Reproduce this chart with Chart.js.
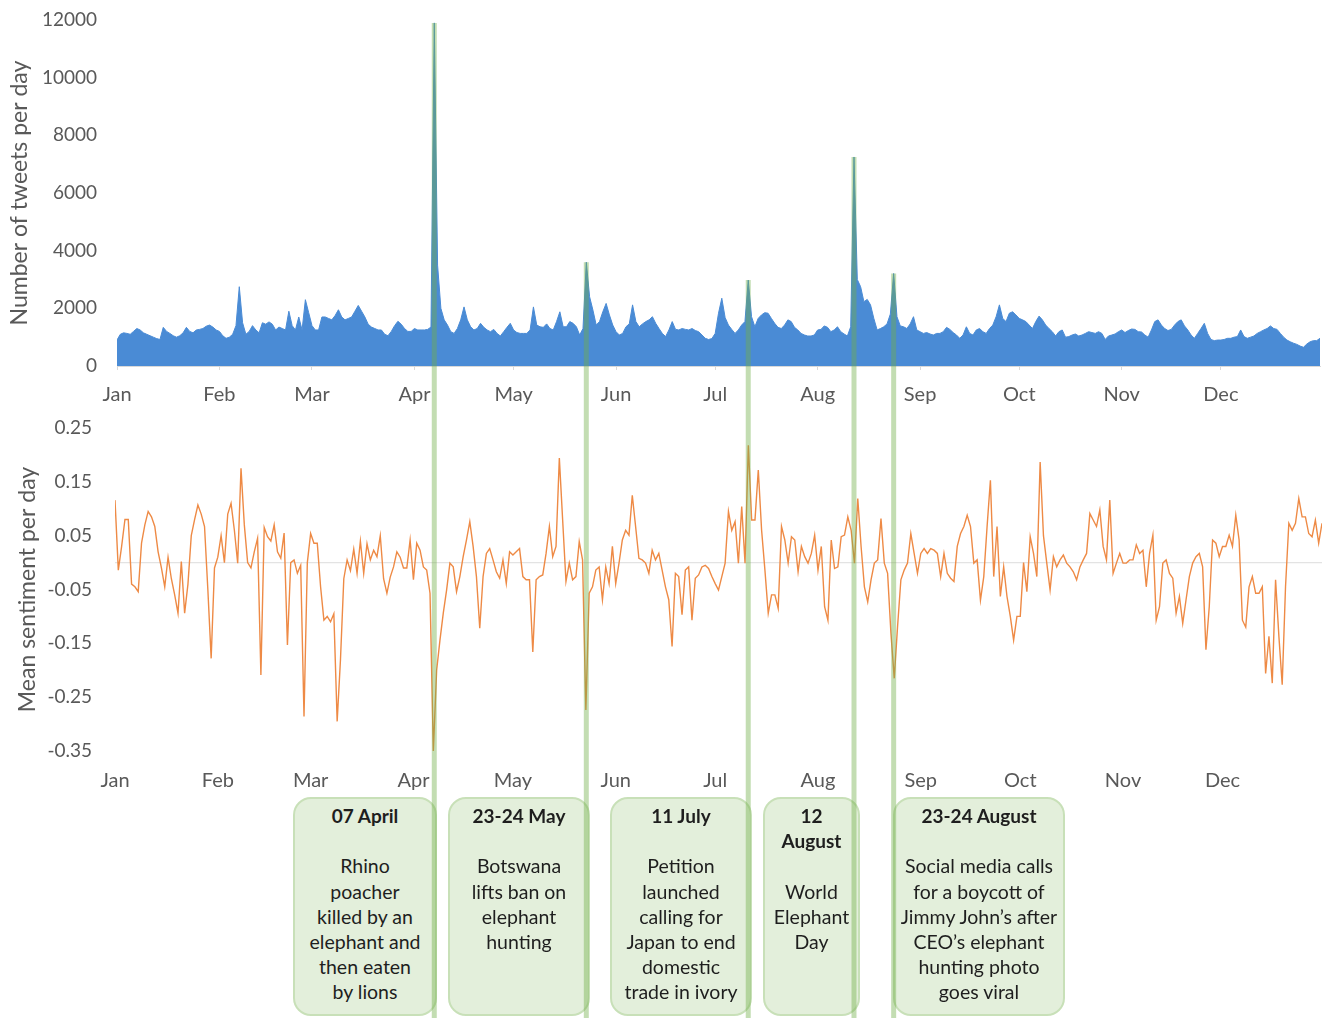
<!DOCTYPE html>
<html><head><meta charset="utf-8">
<script src="https://cdn.jsdelivr.net/npm/chart.js@4.4.1/dist/chart.umd.min.js"></script>
<style>
html,body{margin:0;padding:0;background:#fff;width:1329px;height:1018px;overflow:hidden;font-family:Lato,"Open Sans",sans-serif;}
#wrap{position:relative;width:1329px;height:1018px;}
canvas{position:absolute;left:0;}
#cTop{top:0;}
#cBot{top:410px;}
#overlay{top:0;z-index:10;pointer-events:none;}
.box{position:absolute;top:797px;height:219px;box-sizing:border-box;background:#e3efdb;border:2.5px solid #c8e0b8;border-radius:18px;text-align:center;color:#1e1e1e;font-size:19.5px;line-height:25.2px;padding-top:4px;z-index:5;white-space:nowrap;}
.box .t{font-weight:bold;font-size:19px;}
</style></head><body>
<div id="wrap">
<canvas id="cTop" width="1329" height="410"></canvas>
<canvas id="cBot" width="1329" height="390"></canvas>
<div id="boxes"></div>
<canvas id="overlay" width="1329" height="1018"></canvas>
</div>
<script>
// ---- data ----
const monthStarts = [0,31,59,90,120,151,181,212,243,273,304,334];
const monthLabels = ['Jan','Feb','Mar','Apr','May','Jun','Jul','Aug','Sep','Oct','Nov','Dec'];
const tweetTicks = [0,2000,4000,6000,8000,10000,12000];
const sentimentTicks = [-0.35,-0.25,-0.15,-0.05,0.05,0.15,0.25];

const tweets = [
900,1100,1150,1130,1100,1200,1300,1250,1150,1100,
1050,1000,950,920,1340,1200,1130,1050,1000,1050,
1150,1340,1200,1150,1250,1270,1300,1380,1420,1350,
1250,1200,1050,960,1000,1100,1400,2750,1500,1100,
1200,1400,1250,1150,1500,1450,1530,1450,1250,1350,
1300,1250,1900,1400,1250,1700,1250,2300,1850,1400,
1250,1250,1700,1700,1650,1600,1750,1950,1700,1600,
1650,1700,1900,2100,1900,1700,1450,1350,1300,1250,
1250,1100,1050,1200,1400,1550,1450,1300,1200,1200,
1300,1250,1250,1250,1270,1350,11900,3500,2000,1600,
1420,1190,1130,1300,1600,2050,1600,1360,1250,1300,
1480,1340,1250,1190,1270,1130,1040,1190,1340,1480,
1250,1160,1130,1130,1130,1250,2050,1420,1360,1340,
1460,1300,1250,1540,1880,1360,1360,1540,1480,1360,
1075,1300,3600,2400,1940,1420,1540,1880,2170,1770,
1420,1190,1075,1130,1360,1460,2120,1540,1360,1460,
1540,1600,1710,1480,1300,1130,1020,1250,1540,1270,
1250,1300,1270,1250,1300,1230,1190,1075,960,920,
950,1130,1830,2350,1680,1420,1270,1130,1250,1420,
1540,2980,1710,1360,1650,1770,1850,1830,1650,1480,
1340,1300,1420,1600,1540,1340,1250,1130,1075,1040,
1040,1075,1250,1270,1390,1340,1190,1250,1360,1190,
1110,1040,1360,7250,3000,2750,2230,2310,2120,1650,
1250,1300,1360,1460,1800,3210,1710,1390,1360,1300,
1460,1710,1250,1190,1130,1160,1110,1075,1130,1130,
1190,1340,1270,1160,1075,960,1075,1360,1130,1075,
1250,1300,1190,1130,1300,1420,1710,2120,1650,1540,
1830,1880,1770,1650,1600,1540,1420,1300,1540,1730,
1600,1420,1300,1190,1040,1190,1250,1000,1020,1075,
1110,1040,1075,1130,1190,1160,1130,1190,1130,920,
1040,1075,1110,1190,1250,1160,1230,1283,1270,1190,
1180,1075,1000,1250,1540,1600,1420,1300,1230,1270,
1420,1540,1600,1390,1250,1075,960,1130,1300,1480,
1130,920,880,900,900,920,960,960,1000,1020,
1250,1020,960,1000,1040,1130,1190,1250,1300,1390,
1300,1270,1130,1000,900,840,790,750,690,650,
760,840,880,880,960
];

const sentiment = [
0.116,-0.014,0.03,0.08,0.08,-0.04,-0.045,-0.054,0.036,0.07,
0.095,0.085,0.067,0.02,-0.01,-0.045,0.01,-0.03,-0.06,-0.094,
0.002,-0.094,-0.04,0.05,0.08,0.107,0.09,0.067,-0.05,-0.178,
-0.01,0.01,0.05,0.0,0.09,0.11,0.06,-0.001,0.175,0.07,
0.0,-0.01,0.02,0.045,-0.209,0.065,0.048,0.04,0.07,0.02,
0.008,0.055,-0.153,0.0,0.005,-0.02,-0.005,-0.286,0.0,0.054,
0.036,0.036,-0.045,-0.107,-0.1,-0.11,-0.095,-0.295,-0.18,-0.03,
0.005,-0.015,0.025,-0.02,0.04,-0.02,0.035,0.005,0.023,0.011,
0.05,-0.03,-0.057,-0.027,-0.008,0.02,0.01,-0.01,-0.01,0.042,
-0.032,0.036,0.023,-0.008,-0.014,-0.057,-0.35,-0.2,-0.144,-0.094,
-0.051,-0.001,-0.008,-0.054,-0.026,0.011,0.042,0.076,0.03,-0.026,
-0.122,-0.026,0.017,0.026,0.005,-0.017,-0.029,0.005,-0.039,0.02,
0.014,0.02,0.026,-0.026,-0.032,-0.032,-0.166,-0.032,-0.026,-0.023,
0.017,0.067,0.011,0.03,0.194,0.079,-0.035,-0.001,-0.032,-0.026,
0.039,0.005,-0.274,-0.057,-0.045,-0.014,-0.008,-0.069,-0.008,-0.039,
0.03,-0.039,-0.001,0.042,0.06,0.051,0.125,0.067,0.008,0.005,
-0.001,-0.02,0.023,0.005,0.017,-0.014,-0.045,-0.069,-0.156,-0.02,
-0.026,-0.097,-0.014,-0.008,-0.107,-0.029,-0.023,-0.008,-0.005,-0.011,
-0.026,-0.039,-0.051,-0.026,-0.001,0.095,0.06,0.076,-0.001,0.104,
-0.001,0.218,0.079,0.079,0.172,0.06,-0.014,-0.094,-0.06,-0.06,
-0.085,0.067,0.042,-0.001,0.048,0.042,-0.017,0.03,0.011,-0.001,
0.017,0.051,-0.014,0.03,-0.082,-0.107,0.042,-0.011,-0.008,0.048,
0.051,0.085,0.06,-0.001,0.119,0.03,-0.045,-0.073,-0.032,-0.001,
0.005,0.082,-0.001,-0.02,-0.131,-0.215,-0.119,-0.032,-0.014,-0.001,
0.054,0.017,-0.02,0.017,0.026,0.017,0.026,0.023,0.017,-0.026,
0.017,-0.02,-0.029,-0.035,0.03,0.054,0.067,0.088,0.067,-0.001,
0.005,-0.07,-0.026,0.067,0.153,-0.026,0.067,-0.063,-0.008,-0.063,
-0.1,-0.144,-0.1,-0.1,0.0,-0.054,0.048,0.017,-0.026,0.187,
0.05,-0.001,-0.051,0.011,-0.008,0.005,0.014,-0.001,-0.008,-0.017,
-0.032,-0.008,0.005,0.017,0.091,0.079,0.067,0.098,0.03,0.005,
0.116,-0.02,-0.001,0.017,-0.001,-0.001,0.005,0.005,0.033,0.017,
0.023,-0.045,0.017,0.051,-0.107,-0.082,-0.001,0.005,-0.02,-0.029,
-0.094,-0.063,-0.113,-0.069,-0.026,-0.001,0.011,0.017,-0.008,-0.162,
-0.082,0.042,0.036,0.011,0.03,0.03,0.051,0.03,0.088,0.042,
-0.107,-0.12,-0.045,-0.026,-0.057,-0.057,-0.045,-0.206,-0.137,-0.224,
-0.032,-0.137,-0.227,-0.045,0.073,0.06,0.073,0.119,0.085,0.085,
0.054,0.048,0.079,0.036,0.073
];

const eventDays = [96, 142, 191, 223, 235];
const boxTitles = [['07 April'],['23-24 May'],['11 July'],['12','August'],['23-24 August']];
const boxBodies = [
  ['Rhino','poacher','killed by an','elephant and','then eaten','by lions'],
  ['Botswana','lifts ban on','elephant','hunting'],
  ['Petition','launched','calling for','Japan to end','domestic','trade in ivory'],
  ['World','Elephant','Day'],
  ['Social media calls','for a boycott of','Jimmy John\u2019s after','CEO\u2019s elephant','hunting photo','goes viral']
];

// ---- styles ----
const FONT = 'Lato';
const GRAY = '#595959';
const boxGeom = [[293,144],[448,142],[610,142],[763,97],[893,172]];

function monthAxis(tickLen, pad, height, showBorder){
  return {
    type:'linear', min:0, max:364,
    afterBuildTicks: s => { s.ticks = monthStarts.map(v => ({value:v})); },
    afterFit: s => { s.height = height; },
    ticks:{ autoSkip:false, maxRotation:0, padding:pad, color:GRAY, font:{family:FONT,size:20},
      callback: v => monthLabels[monthStarts.indexOf(v)] },
    grid:{ display:showBorder, drawOnChartArea:false, drawTicks:showBorder, tickLength:tickLen, color:'#d9d9d9' },
    border:{ display:showBorder, color:'#d9d9d9' }
  };
}
function fixY(width){
  return s => { s.width = width; s.paddingTop = 0; s.paddingBottom = 0; };
}

const topChart = new Chart(document.getElementById('cTop'), {
  type:'line',
  data:{ datasets:[{
    data: tweets.map((v,i)=>({x:i,y:v})),
    fill:'origin', backgroundColor:'#4a8bd5', borderColor:'#4a8bd5', borderWidth:1,
    pointRadius:0, tension:0 }] },
  options:{
    responsive:false, animation:false,
    layout:{ padding:{ top:20, right:9, left:0, bottom:0 } },
    plugins:{ legend:{display:false}, tooltip:{enabled:false} },
    scales:{
      x: monthAxis(4, 13, 44, true),
      y:{ min:0, max:12000,
        afterBuildTicks: s => { s.ticks = tweetTicks.map(v => ({value:v})); },
        afterFit: fixY(117),
        ticks:{ padding:20, color:GRAY, font:{family:FONT,size:19}, callback: v => String(v) },
        grid:{ display:false, drawTicks:false }, border:{ display:false },
        title:{ display:true, text:'Number of tweets per day', color:GRAY, font:{family:FONT,size:23}, padding:{top:6,bottom:0} }
      }
    }
  }
});

const botChart = new Chart(document.getElementById('cBot'), {
  type:'line',
  data:{ datasets:[
    { data: sentiment.map((v,i)=>({x:i,y:v})), borderColor:'#ee8a45', borderWidth:1.4, pointRadius:0, tension:0, fill:false },
    { data: [{x:0,y:0},{x:364,y:0}], borderColor:'#e3e3e3', borderWidth:1.2, pointRadius:0, fill:false }
  ] },
  options:{
    responsive:false, animation:false,
    layout:{ padding:{ top:18, right:7, left:0, bottom:0 } },
    plugins:{ legend:{display:false}, tooltip:{enabled:false} },
    scales:{
      x: monthAxis(0, 18, 49, false),
      y:{ min:-0.35, max:0.25,
        afterBuildTicks: s => { s.ticks = sentimentTicks.map(v => ({value:v})); },
        afterFit: fixY(115),
        ticks:{ padding:23, color:GRAY, font:{family:FONT,size:19}, callback: v => v.toFixed(2) },
        grid:{ display:false, drawTicks:false }, border:{ display:false },
        title:{ display:true, text:'Mean sentiment per day', color:GRAY, font:{family:FONT,size:23}, padding:{top:14,bottom:0} }
      }
    }
  }
});

// ---- annotation boxes ----
const boxesEl = document.getElementById('boxes');
boxTitles.forEach((t, i) => {
  const d = document.createElement('div');
  d.className = 'box';
  d.style.left = boxGeom[i][0] + 'px';
  d.style.width = boxGeom[i][1] + 'px';
  let html = t.map(s => '<div class="t">' + s + '</div>').join('') + '<div>&nbsp;</div>';
  html += boxBodies[i].map(s => '<div>' + s + '</div>').join('');
  d.innerHTML = html;
  boxesEl.appendChild(d);
});

// ---- event lines drawn from the chart's scales ----
const ov = document.getElementById('overlay').getContext('2d');
ov.strokeStyle = 'rgba(112,173,71,0.42)';
ov.lineWidth = 5;
eventDays.forEach(day => {
  const x = topChart.scales.x.getPixelForValue(day);
  const y = topChart.scales.y.getPixelForValue(tweets[day]);
  ov.beginPath();
  ov.moveTo(x, y);
  ov.lineTo(x, 1018);
  ov.stroke();
});
</script>
</body></html>
